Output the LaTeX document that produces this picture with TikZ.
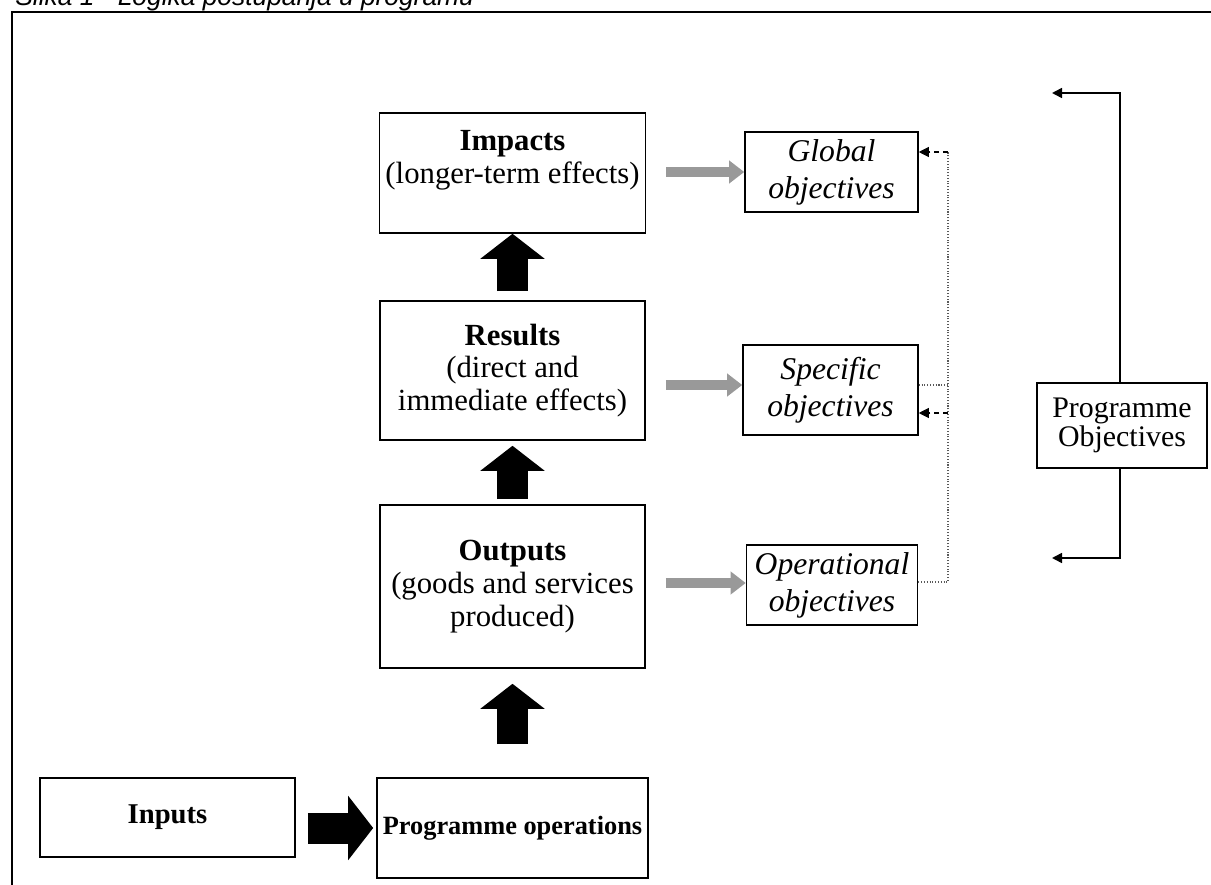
\documentclass[tikz,border=0pt]{standalone}
\usepackage{fontspec}
\setmainfont{Liberation Serif}
\newfontfamily\captionfont{Liberation Sans}
\usetikzlibrary{arrows.meta,calc}

\tikzset{
  stage/.style={draw, line width=0.9pt, align=center, minimum width=5.3cm,
    font=\fontsize{17.5}{18.7}\selectfont},
  goal/.style={draw, line width=0.9pt, align=center,
    font=\fontsize{18}{21}\selectfont\itshape},
  bigarrow/.style={line width=0.62cm, -{Triangle[length=0.5cm, width=1.26cm]}},
  greyarrow/.style={line width=0.19cm, gray!80, -{Triangle[length=0.3cm, width=0.44cm]}},
  feedline/.style={densely dotted, gray!70!black, line width=0.6pt},
  feedarrow/.style={densely dashed, line width=0.6pt, -{Triangle[length=0.2cm, width=0.2cm]}},
  bracket/.style={line width=0.9pt, -{Triangle[length=0.2cm, width=0.2cm]}}
}

\begin{document}
\begin{tikzpicture}[x=0.02cm, y=-0.02cm]

% Page size and cut-off caption
\useasboundingbox (0,0) rectangle (1211,885);
\clip (0,0) rectangle (1211,885);
\node[anchor=base west, inner sep=0pt, font=\captionfont\itshape\fontsize{15}{18}\selectfont]
  (caption) at (15,6) {Slika 1 - Logika postupanja u programu};

% Frame
\draw[line width=1.2pt] (12,885) -- (12,12) -- (1211,12);

% Chain of stages
\node[stage, minimum height=2.4cm] (imp) at (512.5,173)
  {\textbf{Impacts}\\(longer-term effects)\\\mbox{}};
\node[stage, minimum height=2.78cm] (res) at (512.5,370.5)
  {\textbf{Results}\\(direct and\\immediate effects)};
\node[stage, minimum height=3.26cm] (out) at (512.5,586.5)
  {\textbf{Outputs}\\(goods and services\\produced)};
\node[stage, minimum height=2cm, font=\fontsize{15}{18}\selectfont\bfseries] (ops) at (512.5,828)
  {Programme operations};
\node[stage, minimum width=5.1cm, minimum height=1.58cm, font=\fontsize{16.3}{18}\selectfont\bfseries]
  (inp) at (167.5,817.5) {Inputs};

% Objectives
\node[goal, minimum width=3.46cm, minimum height=1.6cm] (glob) at (831.5,172) {Global\\objectives};
\node[goal, minimum width=3.5cm, minimum height=1.8cm] (spec) at (830.5,390) {Specific\\objectives};
\node[goal, minimum width=3.42cm, minimum height=1.6cm] (oper) at (832,585) {Operational\\objectives};
\node[draw, line width=0.6pt, align=center, minimum width=3.4cm, minimum height=1.7cm,
  font=\fontsize{17}{16.5}\selectfont] (pobj) at (1122,425.5) {Programme\\Objectives};

% Black arrows
\draw[bigarrow] ($(res.north)+(0,-9)$) -- (imp.south);
\draw[bigarrow] ($(out.north)+(0,-5)$) -- ($(res.south)+(0,5)$);
\draw[bigarrow] ($(ops.north)+(0,-33)$) -- ($(out.south)+(0,15)$);
\draw[bigarrow] ($(inp.east |- ops.west)+(12,0)$) -- ($(ops.west)+(-3,0)$);

% Grey arrows
\draw[greyarrow] ($(imp.east |- glob.west)+(20,0)$) -- (glob.west);
\draw[greyarrow] ($(res.east |- spec.west)+(20,-5)$) -- ($(spec.west)+(0,-5)$);
\draw[greyarrow] ($(out.east |- oper.west)+(20,-2)$) -- ($(oper.west)+(0,-2)$);

% Feedback lines
\coordinate (ftop) at (948,152);
\coordinate (fspec) at (948,385);
\coordinate (fspecin) at (948,413);
\coordinate (fbot) at (948,582);
\draw[feedline] (oper.east |- fbot) -- (fbot) -- (ftop);
\draw[feedline] (spec.east |- fspec) -- (fspec);
\draw[feedarrow] (ftop) -- (ftop -| glob.east);
\draw[feedarrow] (fspecin) -- (fspecin -| spec.east);

% Bracket
\coordinate (btop) at (1120,93);
\coordinate (bbot) at (1120,558);
\coordinate (btopend) at (1052,93);
\coordinate (bbotend) at (1052,558);
\draw[bracket] (pobj.north -| btop) -- (btop) -- (btopend);
\draw[bracket] (pobj.south -| bbot) -- (bbot) -- (bbotend);
\end{tikzpicture}
\end{document}
